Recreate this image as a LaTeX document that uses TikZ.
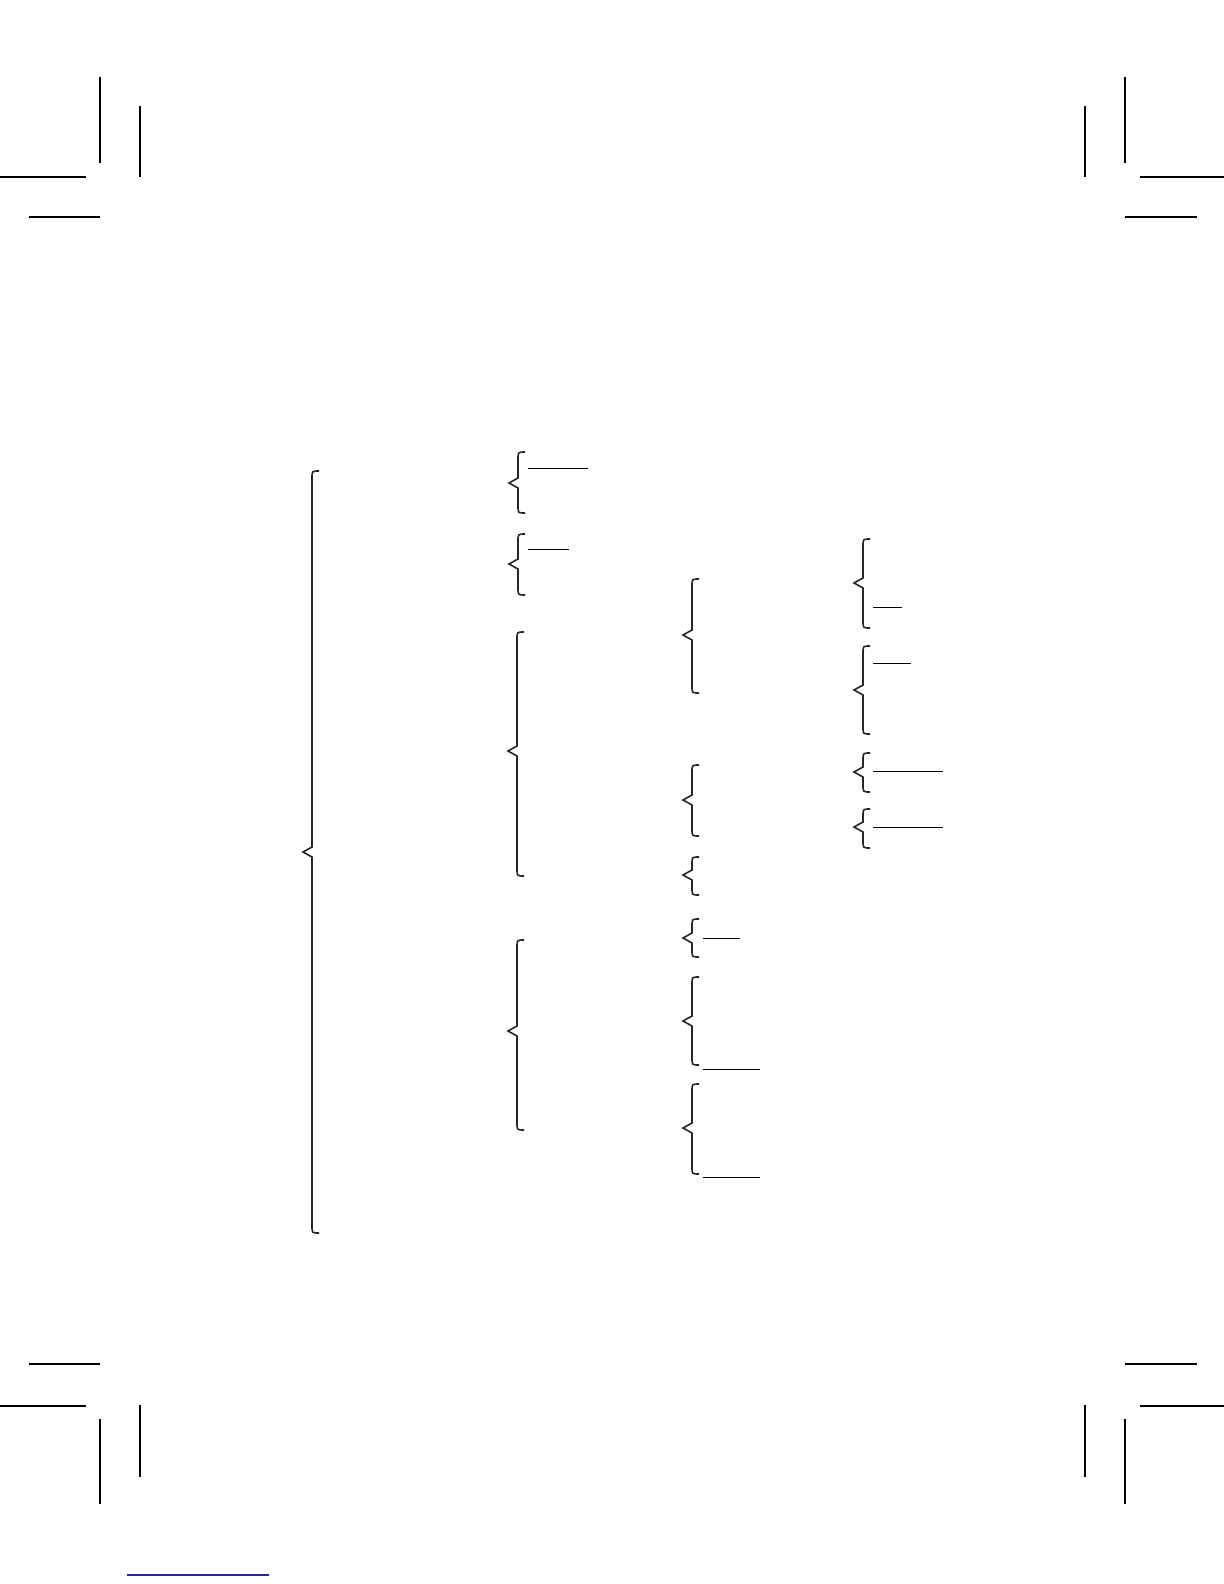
\documentclass[tikz,border=0pt]{standalone}
\usepackage{tikz}
\definecolor{linkblue}{RGB}{40,40,150}
\tikzset{
  bracestyle/.style={line width=0.8pt, line join=miter, black!85},
  rulestyle/.style={line width=0.5pt, black},
  cropstyle/.style={line width=0.9pt, black}
}
\newcommand\mybrace[4]{%
  \draw[bracestyle] ({#1+7},#2) .. controls (#1,#2) .. (#1,{#2+7})
    -- (#1,{#3-5}) -- ({#1-9},#3) -- (#1,{#3+5})
    -- (#1,{#4-7}) .. controls (#1,#4) .. ({#1+7},#4);}
\begin{document}
\begin{tikzpicture}[x=0.5pt,y=-0.5pt]
\useasboundingbox (0,0) rectangle (1224,1584);
% crop marks top-left
\draw[cropstyle] (100,77) -- (100,163);
\draw[cropstyle] (140,106) -- (140,177);
\draw[cropstyle] (0,177) -- (86,177);
\draw[cropstyle] (29,217) -- (100,217);
% crop marks top-right
\draw[cropstyle] (1125,77) -- (1125,163);
\draw[cropstyle] (1085,106) -- (1085,177);
\draw[cropstyle] (1140,177) -- (1224,177);
\draw[cropstyle] (1125,217) -- (1197,217);
% crop marks bottom-left
\draw[cropstyle] (29,1364) -- (100,1364);
\draw[cropstyle] (0,1406) -- (86,1406);
\draw[cropstyle] (100,1419) -- (100,1504);
\draw[cropstyle] (140,1405) -- (140,1477);
% crop marks bottom-right
\draw[cropstyle] (1125,1364) -- (1197,1364);
\draw[cropstyle] (1140,1406) -- (1224,1406);
\draw[cropstyle] (1125,1419) -- (1125,1504);
\draw[cropstyle] (1085,1405) -- (1085,1477);
% blue rule
\draw[line width=0.8pt, linkblue] (127,1575) -- (269,1575);
% braces
\mybrace{312}{471}{852}{1233}
\mybrace{518}{452}{483}{513}
\mybrace{518}{534}{564}{595}
\mybrace{517}{632}{751}{876}
\mybrace{517}{940}{1031}{1130}
\mybrace{692}{579}{635}{693}
\mybrace{692}{765}{800}{836}
\mybrace{692}{857}{875}{895}
\mybrace{692}{919}{938}{957}
\mybrace{692}{977}{1021}{1065}
\mybrace{692}{1084}{1128}{1174}
\mybrace{863}{539}{583}{628}
\mybrace{863}{646}{690}{734}
\mybrace{863}{753}{772}{792}
\mybrace{863}{809}{827}{848}
% rules
\draw[rulestyle] (528,468) -- (588,468);
\draw[rulestyle] (528,549) -- (569,549);
\draw[rulestyle] (703,938) -- (740,938);
\draw[rulestyle] (703,1069) -- (760,1069);
\draw[rulestyle] (703,1177) -- (760,1177);
\draw[rulestyle] (873,607) -- (902,607);
\draw[rulestyle] (873,663) -- (911,663);
\draw[rulestyle] (873,771) -- (943,771);
\draw[rulestyle] (873,827) -- (943,827);
\end{tikzpicture}
\end{document}
